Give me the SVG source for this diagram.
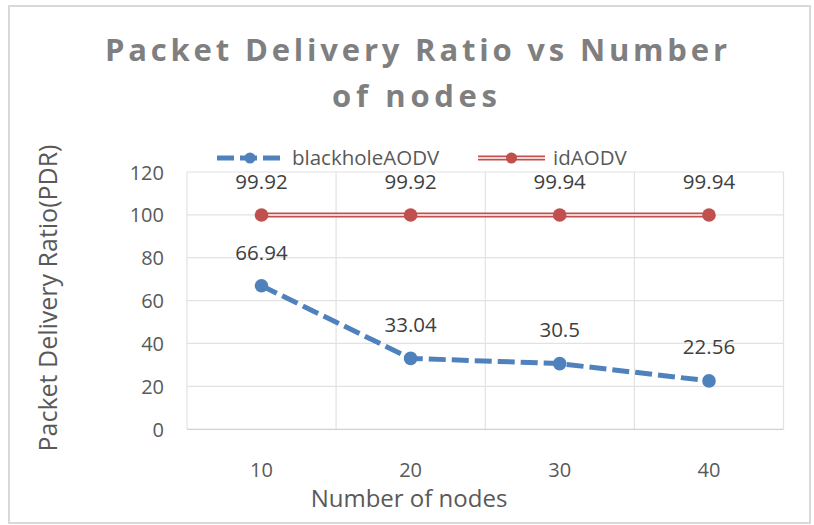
<svg xmlns="http://www.w3.org/2000/svg" width="814" height="525" viewBox="0 0 814 525">
  <style>
    .title { font-family: "Open Sans", "Liberation Sans", sans-serif; font-weight: 700; font-size: 31px; fill: #7f7f7f; }
    .tick { font-family: "Open Sans", "Liberation Sans", sans-serif; font-size: 20px; fill: #595959; }
    .lbl { font-family: "Open Sans", "Liberation Sans", sans-serif; font-size: 20.5px; fill: #404040; text-anchor: middle; }
    .axt { font-family: "Open Sans", "Liberation Sans", sans-serif; font-size: 24px; fill: #595959; text-anchor: middle; }
    .leg { font-family: "Open Sans", "Liberation Sans", sans-serif; font-size: 20.5px; fill: #595959; }
    .grid { stroke: #e2e2e2; stroke-width: 1.2; fill: none; }
    .axis { stroke: #d0d0d0; stroke-width: 1.3; fill: none; }
    .blue { stroke: #4f81bd; stroke-width: 5; stroke-dasharray: 17 6; fill: none; }
    .redo { stroke: #c0504d; stroke-width: 5; fill: none; }
    .redi { stroke: #ffffff; stroke-width: 1.6; fill: none; }
    .bdot { fill: #4f81bd; }
    .rdot { fill: #c0504d; }
  </style>

  <!-- chart frame -->
  <rect x="0" y="0" width="814" height="525" fill="#ffffff"/>
  <rect x="9" y="6" width="801" height="517" fill="#ffffff" stroke="#d9d9d9" stroke-width="2"/>

  <!-- title -->
  <g id="title">
    <text class="title" x="416" y="61" text-anchor="middle" textLength="622" lengthAdjust="spacing">Packet Delivery Ratio vs Number</text>
    <text class="title" x="414.5" y="107" text-anchor="middle" textLength="165" lengthAdjust="spacing">of nodes</text>
  </g>

  <!-- gridlines and axis -->
  <g id="grid">
    <line class="grid" x1="187" y1="172" x2="783.5" y2="172"/>
    <line class="grid" x1="187" y1="214.9" x2="783.5" y2="214.9"/>
    <line class="grid" x1="187" y1="257.7" x2="783.5" y2="257.7"/>
    <line class="grid" x1="187" y1="300.6" x2="783.5" y2="300.6"/>
    <line class="grid" x1="187" y1="343.4" x2="783.5" y2="343.4"/>
    <line class="grid" x1="187" y1="386.3" x2="783.5" y2="386.3"/>
    <line class="grid" x1="187" y1="172" x2="187" y2="429.3"/>
    <line class="grid" x1="336.1" y1="172" x2="336.1" y2="429.3"/>
    <line class="grid" x1="485.3" y1="172" x2="485.3" y2="429.3"/>
    <line class="grid" x1="634.4" y1="172" x2="634.4" y2="429.3"/>
    <line class="grid" x1="783.5" y1="172" x2="783.5" y2="429.3"/>
    <line class="axis" x1="187" y1="429.3" x2="783.5" y2="429.3"/>
  </g>

  <!-- value axis -->
  <g id="y-axis" text-anchor="end">
    <text class="tick" x="164" y="179.5">120</text>
    <text class="tick" x="164" y="222.4">100</text>
    <text class="tick" x="164" y="265.2">80</text>
    <text class="tick" x="164" y="308.1">60</text>
    <text class="tick" x="164" y="350.9">40</text>
    <text class="tick" x="164" y="393.8">20</text>
    <text class="tick" x="164" y="436.7">0</text>
    <text class="axt" transform="translate(57 298) rotate(-90)" style="font-size:25px">Packet Delivery Ratio(PDR)</text>
  </g>

  <!-- category axis -->
  <g id="x-axis" text-anchor="middle">
    <text class="tick" x="261.5" y="476.5">10</text>
    <text class="tick" x="410.6" y="476.5">20</text>
    <text class="tick" x="559.7" y="476.5">30</text>
    <text class="tick" x="709" y="476.5">40</text>
    <text class="axt" x="409" y="507">Number of nodes</text>
  </g>

  <!-- data series -->
  <g id="connectors">
    <polyline class="redo" points="261.5,215 410.6,215 559.7,215 709,215"/>
    <polyline class="redi" points="261.5,215 410.6,215 559.7,215 709,215"/>
    <polyline class="blue" points="261.5,285.8 410.6,358.4 559.7,363.6 709,380.9"/>
  </g>

  <g id="idAODV">
    <circle class="rdot" cx="261.5" cy="215" r="6.8"/>
    <circle class="rdot" cx="410.6" cy="215" r="6.8"/>
    <circle class="rdot" cx="559.7" cy="215" r="6.8"/>
    <circle class="rdot" cx="709" cy="215" r="6.8"/>
    <text class="lbl" x="261.5" y="189">99.92</text>
    <text class="lbl" x="410.6" y="189">99.92</text>
    <text class="lbl" x="559.7" y="189">99.94</text>
    <text class="lbl" x="709" y="189">99.94</text>
  </g>

  <g id="blackholeAODV">
    <circle class="bdot" cx="261.5" cy="285.8" r="6.8"/>
    <circle class="bdot" cx="410.6" cy="358.4" r="6.8"/>
    <circle class="bdot" cx="559.7" cy="363.6" r="6.8"/>
    <circle class="bdot" cx="709" cy="380.9" r="6.8"/>
    <text class="lbl" x="261.5" y="260">66.94</text>
    <text class="lbl" x="410.6" y="332.3">33.04</text>
    <text class="lbl" x="559.7" y="337">30.5</text>
    <text class="lbl" x="709" y="354">22.56</text>
  </g>

  <!-- legend -->
  <g id="legend">
    <line class="blue" x1="217" y1="158" x2="283" y2="158" stroke-dasharray="15 5"/>
    <circle class="bdot" cx="250" cy="158" r="5.5"/>
    <text class="leg" x="292" y="164.5">blackholeAODV</text>
    <line class="redo" x1="478" y1="158" x2="545" y2="158"/>
    <line class="redi" x1="478" y1="158" x2="545" y2="158"/>
    <circle class="rdot" cx="511.5" cy="158" r="5.5"/>
    <text class="leg" x="553" y="164.5">idAODV</text>
  </g>
</svg>
